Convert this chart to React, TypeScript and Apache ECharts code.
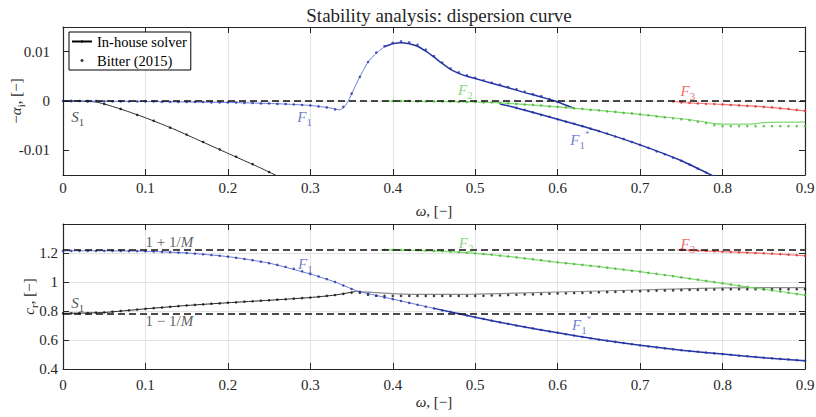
import React, { useEffect, useRef } from "react";
import * as echarts from "echarts";

const FONT = "Liberation Serif";
const M = 4.5; // Mach-like parameter of the 1 ± 1/M reference lines

// ---------- Top panel: -alpha_i, in-house solver (lines) ----------
const topS1W = [0, 0.02, 0.04, 0.05, 0.06, 0.08, 0.1, 0.12, 0.14, 0.16, 0.18, 0.2, 0.22, 0.24, 0.26, 0.28];
const topS1V = [0, -0.00002, -0.0002, -0.0006, -0.0011, -0.0022, -0.0034, -0.0047, -0.0061, -0.0076, -0.0091, -0.0106, -0.0121, -0.0136, -0.0152, -0.0168];

const topF1W = [0, 0.1, 0.2, 0.25, 0.28, 0.3, 0.31, 0.32, 0.33, 0.335, 0.34, 0.345, 0.35, 0.355, 0.36, 0.37, 0.38, 0.39, 0.4, 0.41, 0.42, 0.43, 0.44, 0.45, 0.46, 0.47, 0.48, 0.49, 0.5, 0.52, 0.54, 0.56, 0.58, 0.6, 0.62];
const topF1V = [0, -0.0001, -0.0003, -0.0005, -0.0007, -0.0009, -0.0011, -0.0013, -0.0016, -0.0018, -0.0014, -0.0003, 0.0014, 0.0032, 0.0049, 0.0079, 0.0097, 0.011, 0.0116, 0.0118, 0.0116, 0.0111, 0.0101, 0.0089, 0.0076, 0.0064, 0.0056, 0.005, 0.00455, 0.0036, 0.0027, 0.0017, 0.0008, -0.0002, -0.0015];

const topF1sW = [0.53, 0.55, 0.6, 0.65, 0.7, 0.75, 0.79, 0.8];
const topF1sV = [-0.0006, -0.0014, -0.0037, -0.0061, -0.0089, -0.0121, -0.0153, -0.0162];

const topF2W = [0.385, 0.45, 0.5, 0.53, 0.55, 0.6, 0.65, 0.7, 0.72, 0.75, 0.78, 0.79, 0.8, 0.83, 0.85, 0.87, 0.9];
const topF2V = [0, -0.0001, -0.0002, -0.0004, -0.0006, -0.0012, -0.0019, -0.0027, -0.0031, -0.0036, -0.0043, -0.0046, -0.0047, -0.0047, -0.0044, -0.0043, -0.0043];

const topF3W = [0.74, 0.75, 0.8, 0.85, 0.9];
const topF3V = [0, -0.0003, -0.0007, -0.0012, -0.002];

// ---------- Top panel: Bitter (2015) points ----------
const bTopS1Start = 0.01, bTopS1Step = 0.02;
const bTopS1 = [0, -0.0001, -0.0006, -0.0016, -0.0028, -0.004, -0.0054, -0.0068, -0.0083, -0.0098, -0.0113, -0.0128, -0.0144];

const bTopF1Start = 0, bTopF1Step = 0.01;
const bTopF1 = [0, 0, 0, 0, 0, -0.0001, -0.0001, -0.0001, -0.0001, -0.0001, -0.0001, -0.0001, -0.0002, -0.0002, -0.0002, -0.0002, -0.0002, -0.0002, -0.0003, -0.0003, -0.0003, -0.0003, -0.0004, -0.0004, -0.0005, -0.0005, -0.0006, -0.0006, -0.0007, -0.0008, -0.0009, -0.0011, -0.0013, -0.0017, -0.0012, 0.0015, 0.0049, 0.0079, 0.0098, 0.0111, 0.0118, 0.0121, 0.0119, 0.0114, 0.0104, 0.0091, 0.0078, 0.0066, 0.0058, 0.0052, 0.0047, 0.0042, 0.0037, 0.0033, 0.0028, 0.0024, 0.0019, 0.0014, 0.001, 0.0004, -0.0002];

const bTopF1sStart = 0.55, bTopF1sStep = 0.01;
const bTopF1s = [-0.0014, -0.0018, -0.0023, -0.0028, -0.0032, -0.0037, -0.0042, -0.0046, -0.0051, -0.0056, -0.0061, -0.0066, -0.0072, -0.0077, -0.0083, -0.0089, -0.0095, -0.0102, -0.0108, -0.0115, -0.0121, -0.0129, -0.0137, -0.0145];

const bTopF2Start = 0.4, bTopF2Step = 0.01;
const bTopF2 = [0, 0, 0, -0.0001, -0.0001, -0.0001, -0.0001, -0.0001, -0.0002, -0.0002, -0.0002, -0.0003, -0.0003, -0.0004, -0.0005, -0.0006, -0.0007, -0.0008, -0.0009, -0.0011, -0.0012, -0.0013, -0.0015, -0.0016, -0.0018, -0.0019, -0.0021, -0.0022, -0.0024, -0.0025, -0.0027, -0.0029, -0.0031, -0.0033, -0.0035, -0.0037, -0.0039, -0.0042, -0.0045, -0.0049, -0.0051, -0.0051, -0.0051, -0.0051, -0.0051, -0.0051, -0.0051, -0.0051, -0.0051, -0.0051, -0.0051];

const bTopF3Start = 0.74, bTopF3Step = 0.01;
const bTopF3 = [-0.0001, -0.0003, -0.0004, -0.0005, -0.0006, -0.0006, -0.0007, -0.0008, -0.0009, -0.001, -0.0011, -0.0012, -0.0013, -0.0015, -0.0016, -0.0018, -0.002];

// ---------- Bottom panel: c_r, in-house solver (lines) ----------
const botS1W = [0, 0.05, 0.1, 0.15, 0.2, 0.25, 0.3, 0.33, 0.355, 0.4, 0.45, 0.5, 0.6, 0.7, 0.75, 0.8, 0.9];
const botS1V = [0.784, 0.79, 0.815, 0.838, 0.857, 0.874, 0.893, 0.91, 0.935, 0.92, 0.914, 0.916, 0.931, 0.945, 0.953, 0.96, 0.961];

const botF1W = [0, 0.05, 0.1, 0.15, 0.2, 0.25, 0.3, 0.33, 0.34, 0.355, 0.36, 0.4, 0.45, 0.5, 0.55, 0.6, 0.65, 0.7, 0.75, 0.8, 0.85, 0.9];
const botF1V = [1.215, 1.215, 1.212, 1.2, 1.175, 1.13, 1.055, 1.0, 0.976, 0.942, 0.933, 0.882, 0.818, 0.757, 0.7, 0.65, 0.603, 0.563, 0.53, 0.503, 0.478, 0.457];

const botF2W = [0.385, 0.4, 0.45, 0.5, 0.55, 0.6, 0.65, 0.7, 0.75, 0.8, 0.85, 0.9];
const botF2V = [1.222, 1.221, 1.215, 1.198, 1.17, 1.136, 1.106, 1.071, 1.032, 0.991, 0.95, 0.91];

const botF3W = [0.745, 0.75, 0.8, 0.85, 0.9];
const botF3V = [1.222, 1.221, 1.209, 1.198, 1.181];

// ---------- Bottom panel: Bitter (2015) points ----------
const bBotS1Start = 0, bBotS1Step = 0.01;
const bBotS1 = [0.784, 0.784, 0.785, 0.786, 0.788, 0.79, 0.795, 0.8, 0.805, 0.81, 0.815, 0.82, 0.824, 0.829, 0.834, 0.838, 0.842, 0.846, 0.85, 0.853, 0.857, 0.86, 0.864, 0.867, 0.871, 0.874, 0.878, 0.881, 0.885, 0.889, 0.893, 0.898, 0.904, 0.91, 0.918, 0.926, 0.925, 0.912, 0.905, 0.904, 0.904, 0.904, 0.904, 0.904, 0.904, 0.904, 0.904, 0.904, 0.904, 0.904, 0.904, 0.905, 0.907, 0.908, 0.91, 0.912, 0.914, 0.915, 0.917, 0.919, 0.921, 0.922, 0.924, 0.925, 0.927, 0.929, 0.93, 0.932, 0.934, 0.935, 0.937, 0.938, 0.94, 0.941, 0.942, 0.944, 0.945, 0.946, 0.947, 0.948, 0.949, 0.95, 0.95, 0.95, 0.95, 0.95, 0.95, 0.95, 0.95, 0.95, 0.95];

const bBotF1Start = 0, bBotF1Step = 0.01;
const bBotF1 = [1.215, 1.215, 1.215, 1.215, 1.215, 1.215, 1.214, 1.214, 1.213, 1.213, 1.212, 1.21, 1.208, 1.206, 1.203, 1.2, 1.196, 1.191, 1.186, 1.181, 1.175, 1.167, 1.159, 1.15, 1.14, 1.13, 1.118, 1.105, 1.091, 1.074, 1.055, 1.038, 1.02, 1.0, 0.976, 0.952, 0.933, 0.918, 0.905, 0.893, 0.882, 0.869, 0.856, 0.843, 0.83, 0.818, 0.805, 0.793, 0.781, 0.769, 0.757, 0.745, 0.733, 0.722, 0.711, 0.7, 0.69, 0.68, 0.669, 0.659, 0.65, 0.64, 0.631, 0.621, 0.612, 0.603, 0.595, 0.587, 0.579, 0.571, 0.563, 0.556, 0.549, 0.542, 0.536, 0.53, 0.524, 0.519, 0.513, 0.508, 0.503, 0.498, 0.493, 0.488, 0.483, 0.478, 0.474, 0.47, 0.466, 0.461, 0.457];

const bBotF2Start = 0.39, bBotF2Step = 0.01;
const bBotF2 = [1.222, 1.221, 1.221, 1.22, 1.219, 1.217, 1.215, 1.213, 1.21, 1.206, 1.202, 1.198, 1.193, 1.188, 1.182, 1.176, 1.17, 1.163, 1.157, 1.15, 1.143, 1.136, 1.13, 1.124, 1.118, 1.112, 1.106, 1.099, 1.092, 1.085, 1.078, 1.071, 1.063, 1.056, 1.048, 1.04, 1.032, 1.024, 1.016, 1.008, 0.999, 0.991, 0.983, 0.975, 0.966, 0.958, 0.95, 0.942, 0.934, 0.926, 0.918, 0.91];

const bBotF3Start = 0.75, bBotF3Step = 0.01;
const bBotF3 = [1.221, 1.219, 1.217, 1.215, 1.212, 1.209, 1.207, 1.205, 1.202, 1.2, 1.198, 1.195, 1.192, 1.189, 1.185, 1.181];

// ---------- Annotations ----------
const topNotes = ["S1", "F1", "F2", "F1*", "F3"];
const topNoteW = [0.018, 0.293, 0.488, 0.627, 0.758];
const topNoteV = [-0.0033, -0.0033, 0.0022, -0.008, 0.002];

const botNotes = ["1+1/M", "1-1/M", "S1", "F1", "F2", "F3", "F1*"];
const botNoteW = [0.129, 0.129, 0.018, 0.294, 0.489, 0.758, 0.629];
const botNoteV = [1.276, 0.731, 0.855, 1.124, 1.269, 1.262, 0.703];

const topYTicks = [-0.01, 0, 0.01];

// ---------- Styles ----------
const C = {
  axis: "#262626",
  grid: "#e3e3e3",
  blueDark: "#2535a6",
  blueLight: "#6a7bd4",
  blueText: "#4b5ec6",
  green: "#85d775",
  greenDot: "#3fbb2c",
  greenText: "#6cc95c",
  red: "#f07a7a",
  redDot: "#e2302f",
  redText: "#e84a4a",
  black: "#2a2a2a",
  gray: "#8d8d8d",
};
const noteColor: Record<string, string> = {
  S1: "#222", F1: C.blueText, "F1*": C.blueText, F2: C.greenText, F3: C.redText,
  "1+1/M": "#333", "1-1/M": "#333",
};

const zip = (w: number[], v: number[]) => w.map((x, i) => [x, v[i]]);
const onGrid = (start: number, step: number, v: number[]) =>
  v.map((y, i) => [+(start + i * step).toFixed(3), y]);
const noteData = (names: string[], w: number[], v: number[]) =>
  names.map((n, i) => ({ name: n, value: [w[i], v[i]], label: { color: noteColor[n] } }));

const richFor = (size: number) => ({
  t: { fontFamily: FONT, fontSize: size },
  i: { fontFamily: FONT, fontSize: size, fontStyle: "italic" },
  sub: { fontFamily: FONT, fontSize: Math.round(size * 0.7), verticalAlign: "bottom", lineHeight: size + 6 },
  sup: { fontFamily: FONT, fontSize: Math.round(size * 0.6), verticalAlign: "top", lineHeight: size + 6 },
});

const noteText = (n: string) => {
  if (n === "1+1/M") return "{t|1 + 1/}{i|M}";
  if (n === "1-1/M") return "{t|1 \u2212 1/}{i|M}";
  if (n === "F1*") return "{i|F}{sub|1}{sup|*}";
  return `{i|${n[0]}}{sub|${n.slice(1)}}`;
};

export default function App() {
  const ref = useRef<HTMLDivElement>(null);
  useEffect(() => {
    if (!ref.current) return;
    const chart = echarts.init(ref.current, undefined, { renderer: "svg" });

    const fmtX = (v: number) => (Math.abs(v) < 1e-9 ? "0" : v.toFixed(1));
    const baseX = (gi: number, nameGap: number, margin: number) => ({
      type: "value",
      gridIndex: gi,
      min: 0,
      max: 0.9,
      interval: 0.1,
      position: "bottom",
      axisLine: { show: true, onZero: false, lineStyle: { color: C.axis, width: 1.2 } },
      axisTick: { show: true, inside: true, length: 6, lineStyle: { color: C.axis, width: 1 } },
      axisLabel: { show: true, margin, color: C.axis, fontFamily: FONT, fontSize: 15, formatter: fmtX },
      splitLine: { show: true, lineStyle: { color: C.grid, width: 1 } },
      name: "{i|\u03c9}{t|, [\u2212]}",
      nameLocation: "middle",
      nameGap,
      nameMoveOverlap: false,
      nameTextStyle: { color: C.axis, fontFamily: FONT, rich: richFor(15) },
    });
    const topX = (gi: number) => ({
      type: "value",
      gridIndex: gi,
      min: 0,
      max: 0.9,
      interval: 0.1,
      position: "top",
      axisLine: { show: true, onZero: false, lineStyle: { color: C.axis, width: 1.2 } },
      axisTick: { show: true, inside: true, length: 6, lineStyle: { color: C.axis, width: 1 } },
      axisLabel: { show: false },
      splitLine: { show: false },
    });

    const option: any = {
      animation: false,
      backgroundColor: "#fff",
      textStyle: { fontFamily: FONT },
      title: {
        text: "Stability analysis: dispersion curve",
        left: 434,
        top: 1,
        textAlign: "center",
        textStyle: { fontFamily: FONT, fontSize: 19, fontWeight: "normal", color: C.axis },
      },
      legend: {
        left: 69,
        top: 32,
        orient: "vertical",
        data: ["In-house solver", "Bitter (2015)"],
        itemWidth: 20,
        itemHeight: 3,
        itemGap: 4,
        padding: [2, 4, 2, 2],
        borderColor: "#000",
        borderWidth: 1,
        backgroundColor: "#fff",
        textStyle: { fontFamily: FONT, fontSize: 14.5, color: "#000", lineHeight: 14 },
        selectedMode: false,
      },
      grid: [
        { left: 63, top: 27, width: 742, height: 148, containLabel: false, outerBoundsMode: "none" },
        { left: 63, top: 224, width: 742, height: 145, containLabel: false, outerBoundsMode: "none" },
      ],
      xAxis: [baseX(0, 28, 5), topX(0), baseX(1, 25, 8), topX(1)],
      yAxis: [
        {
          type: "value",
          gridIndex: 0,
          min: -0.015,
          max: 0.015,
          interval: 0.005,
          position: "left",
          axisLine: { show: true, onZero: false, lineStyle: { color: C.axis, width: 1.2 } },
          axisTick: { show: true, inside: true, length: 6, customValues: topYTicks, lineStyle: { color: C.axis } },
          axisLabel: {
            show: true, margin: 13, color: C.axis, fontFamily: FONT, fontSize: 15,
            customValues: topYTicks,
            formatter: (v: number) => {
              if (Math.abs(v) < 1e-9) return "0";
              if (Math.abs(Math.abs(v) - 0.01) < 1e-9) return v.toFixed(2);
              return "";
            },
          },
          splitLine: { show: true, lineStyle: { color: ["rgba(0,0,0,0)", C.grid], width: 1 } },
          name: "{t|\u2212}{i|\u03b1}{sub|i}{t|, [\u2212]}",
          nameLocation: "middle",
          nameRotate: 90,
          nameGap: 37,
          nameMoveOverlap: false,
          nameTextStyle: { color: C.axis, fontFamily: FONT, rich: richFor(15) },
        },
        {
          type: "value",
          gridIndex: 0,
          min: -0.015,
          max: 0.015,
          interval: 0.005,
          position: "right",
          axisLine: { show: true, onZero: false, lineStyle: { color: C.axis, width: 1.2 } },
          axisTick: { show: true, inside: true, length: 6, customValues: topYTicks, lineStyle: { color: C.axis } },
          axisLabel: { show: false },
          splitLine: { show: false },
        },
        {
          type: "value",
          gridIndex: 1,
          min: 0.4,
          max: 1.4,
          interval: 0.2,
          position: "left",
          axisLine: { show: true, onZero: false, lineStyle: { color: C.axis, width: 1.2 } },
          axisTick: { show: true, inside: true, length: 6, lineStyle: { color: C.axis } },
          axisLabel: {
            show: true, margin: 5, color: C.axis, fontFamily: FONT, fontSize: 15,
            formatter: (v: number) => (v > 1.3 ? "" : String(+v.toFixed(1))),
          },
          splitLine: { show: true, lineStyle: { color: C.grid, width: 1 } },
          name: "{i|c}{sub|r}{t|, [\u2212]}",
          nameLocation: "middle",
          nameRotate: 90,
          nameGap: 24,
          nameMoveOverlap: false,
          nameTextStyle: { color: C.axis, fontFamily: FONT, rich: richFor(15) },
        },
        {
          type: "value",
          gridIndex: 1,
          min: 0.4,
          max: 1.4,
          interval: 0.2,
          position: "right",
          axisLine: { show: true, onZero: false, lineStyle: { color: C.axis, width: 1.2 } },
          axisTick: { show: true, inside: true, length: 6, lineStyle: { color: C.axis } },
          axisLabel: { show: false },
          splitLine: { show: false },
        },
      ],
      series: [] as any[],
    };

    const line = (name: string, ax: number, data: number[][], color: string, width = 1.2, z = 2) => ({
      name, type: "line", xAxisIndex: ax, yAxisIndex: ax, data, symbol: "none", showSymbol: false,
      smooth: 0.2, lineStyle: { color, width }, itemStyle: { color }, z, silent: true, clip: true,
    });
    const dots = (name: string, ax: number, data: number[][], color: string) => ({
      name, type: "scatter", xAxisIndex: ax, yAxisIndex: ax, data, symbol: "circle", symbolSize: 2.6,
      itemStyle: { color }, z: 3, silent: true, clip: true,
    });
    const notes = (ax: number, data: any[]) => ({
      name: "notes" + ax, type: "scatter", xAxisIndex: ax, yAxisIndex: ax, data, symbol: "circle",
      symbolSize: 1, itemStyle: { color: "rgba(0,0,0,0)" }, z: 6, silent: true,
      label: {
        show: true, position: "inside", fontFamily: FONT, fontSize: 15,
        formatter: (p: any) => noteText(p.name), rich: richFor(15),
      },
    });
    const dashed = (ax: number, ys: number[]) => ({
      name: "ref" + ax, type: "line", xAxisIndex: ax, yAxisIndex: ax, data: [], z: 5, silent: true,
      markLine: {
        silent: true, symbol: ["none", "none"], label: { show: false }, animation: false,
        lineStyle: { color: "#111", width: 1.5, type: [7, 4] },
        data: ys.map((y) => ({ yAxis: y })),
      },
    });

    const topF1 = zip(topF1W, topF1V);
    const botF1 = zip(botF1W, botF1V);
    const botS1 = zip(botS1W, botS1V);

    option.series = [
      // legend proxies
      { name: "In-house solver", type: "line", data: [], symbol: "none", lineStyle: { color: "#000", width: 1.3 }, itemStyle: { color: "#000" } },
      { name: "Bitter (2015)", type: "scatter", data: [], symbol: "circle", itemStyle: { color: "#000" } },
      // top panel
      line("topS1", 0, zip(topS1W, topS1V), C.black, 1),
      line("topF1a", 0, topF1.filter((p) => p[0] <= 0.39), C.blueLight, 1),
      line("topF1b", 0, topF1.filter((p) => p[0] >= 0.39), C.blueDark, 1.5),
      line("topF1s", 0, zip(topF1sW, topF1sV), C.blueDark, 1.5),
      line("topF2", 0, zip(topF2W, topF2V), C.green, 1.2),
      line("topF3", 0, zip(topF3W, topF3V), C.red, 1.2),
      dots("bTopS1", 0, onGrid(bTopS1Start, bTopS1Step, bTopS1), "#111"),
      dots("bTopF1", 0, onGrid(bTopF1Start, bTopF1Step, bTopF1), C.blueDark),
      dots("bTopF1s", 0, onGrid(bTopF1sStart, bTopF1sStep, bTopF1s), C.blueDark),
      dots("bTopF2", 0, onGrid(bTopF2Start, bTopF2Step, bTopF2), C.greenDot),
      dots("bTopF3", 0, onGrid(bTopF3Start, bTopF3Step, bTopF3), C.redDot),
      dashed(0, [0]),
      notes(0, noteData(topNotes, topNoteW, topNoteV)),
      // bottom panel
      line("botS1a", 2, botS1.filter((p) => p[0] <= 0.355), C.black, 1),
      line("botS1b", 2, botS1.filter((p) => p[0] >= 0.355), C.gray, 1.2),
      line("botF1a", 2, botF1.filter((p) => p[0] <= 0.45), C.blueLight, 1),
      line("botF1b", 2, botF1.filter((p) => p[0] >= 0.45), C.blueDark, 1.5),
      line("botF2", 2, zip(botF2W, botF2V), C.green, 1.2),
      line("botF3", 2, zip(botF3W, botF3V), C.red, 1.2),
      dots("bBotS1", 2, onGrid(bBotS1Start, bBotS1Step, bBotS1), "#111"),
      dots("bBotF1", 2, onGrid(bBotF1Start, bBotF1Step, bBotF1), C.blueDark),
      dots("bBotF2", 2, onGrid(bBotF2Start, bBotF2Step, bBotF2), C.greenDot),
      dots("bBotF3", 2, onGrid(bBotF3Start, bBotF3Step, bBotF3), C.redDot),
      dashed(2, [1 + 1 / M, 1 - 1 / M]),
      notes(2, noteData(botNotes, botNoteW, botNoteV)),
    ];
    chart.setOption(option);
    return () => chart.dispose();
  }, []);

  return (
    <div
      ref={ref}
      style={{ position: "fixed", left: 0, top: 0, width: 816, height: 417, background: "#fff" }}
    />
  );
}
